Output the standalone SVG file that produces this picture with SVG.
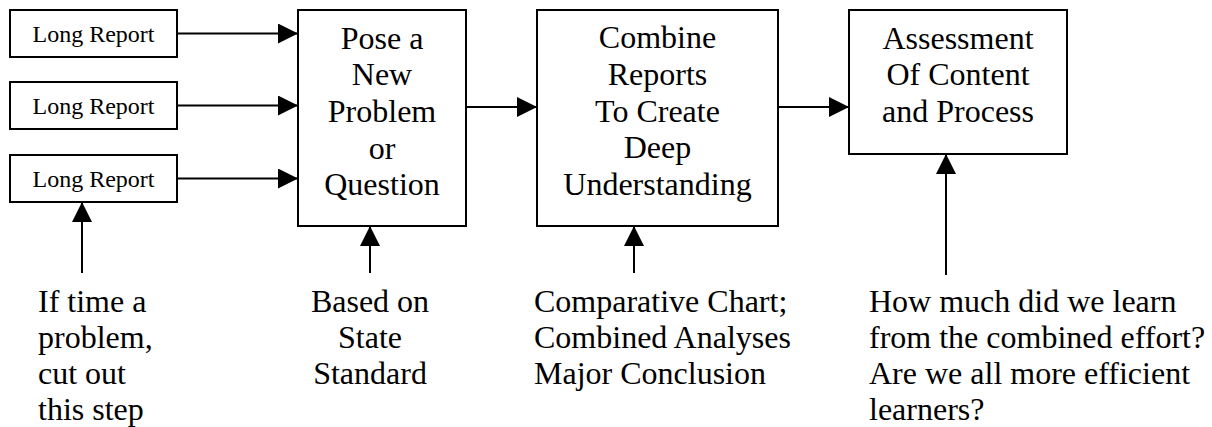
<svg xmlns="http://www.w3.org/2000/svg" width="1212" height="427" viewBox="0 0 1212 427">
  <style>
    .box { fill: #ffffff; stroke: #000000; stroke-width: 2; }
    text { font-family: 'Liberation Serif', 'Times New Roman', Times, 'DejaVu Serif', serif; fill: #000000; }
    .big { font-size: 32px; }
    .small { font-size: 24px; }
    .mid { text-anchor: middle; }
    .conn { stroke: #000000; stroke-width: 2; fill: none; marker-end: url(#arrow); }
  </style>
  <defs>
    <marker id="arrow" markerUnits="userSpaceOnUse" markerWidth="20" markerHeight="20" refX="20" refY="10" orient="auto">
      <path d="M0,0 L20,10 L0,20 Z" fill="#000000"/>
    </marker>
  </defs>
  <rect width="1212" height="427" fill="#ffffff"/>

  <g id="report1">
    <rect class="box" x="10" y="10" width="167" height="47"/>
    <text class="small mid" x="93.5" y="42">Long Report</text>
  </g>
  <g id="report2">
    <rect class="box" x="10" y="82" width="167" height="47"/>
    <text class="small mid" x="93.5" y="114">Long Report</text>
  </g>
  <g id="report3">
    <rect class="box" x="10" y="155" width="167" height="47"/>
    <text class="small mid" x="93.5" y="187">Long Report</text>
  </g>

  <g id="pose">
    <rect class="box" x="298" y="10" width="168" height="216"/>
    <text class="big mid" x="382" y="49">Pose a</text>
    <text class="big mid" x="382" y="85">New</text>
    <text class="big mid" x="382" y="122">Problem</text>
    <text class="big mid" x="382" y="159">or</text>
    <text class="big mid" x="382" y="195">Question</text>
  </g>

  <g id="combine">
    <rect class="box" x="537" y="10" width="241" height="216"/>
    <text class="big mid" x="657.5" y="48">Combine</text>
    <text class="big mid" x="657.5" y="85">Reports</text>
    <text class="big mid" x="657.5" y="122">To Create</text>
    <text class="big mid" x="657.5" y="158">Deep</text>
    <text class="big mid" x="657.5" y="195">Understanding</text>
  </g>

  <g id="assessment">
    <rect class="box" x="849" y="10" width="218" height="144"/>
    <text class="big mid" x="958" y="49">Assessment</text>
    <text class="big mid" x="958" y="85">Of Content</text>
    <text class="big mid" x="958" y="122">and Process</text>
  </g>

  <g id="note-time">
    <text class="big" x="38" y="312">If time a</text>
    <text class="big" x="38" y="348">problem,</text>
    <text class="big" x="38" y="384">cut out</text>
    <text class="big" x="38" y="420">this step</text>
  </g>
  <g id="note-standard">
    <text class="big mid" x="370" y="312">Based on</text>
    <text class="big mid" x="370" y="348">State</text>
    <text class="big mid" x="370" y="384">Standard</text>
  </g>
  <g id="note-chart">
    <text class="big" x="534" y="312">Comparative Chart;</text>
    <text class="big" x="534" y="348">Combined Analyses</text>
    <text class="big" x="534" y="384">Major Conclusion</text>
  </g>
  <g id="note-learn">
    <text class="big" x="869" y="312">How much did we learn</text>
    <text class="big" x="869" y="348">from the combined effort?</text>
    <text class="big" x="869" y="384">Are we all more efficient</text>
    <text class="big" x="869" y="420">learners?</text>
  </g>

  <g id="connectors">
    <line class="conn" x1="177" y1="33.5" x2="298" y2="33.5"/>
    <line class="conn" x1="177" y1="105.5" x2="298" y2="105.5"/>
    <line class="conn" x1="177" y1="178.5" x2="298" y2="178.5"/>
    <line class="conn" x1="466" y1="107" x2="537" y2="107"/>
    <line class="conn" x1="778" y1="107" x2="849" y2="107"/>
    <line class="conn" x1="82" y1="273" x2="82" y2="202"/>
    <line class="conn" x1="370" y1="273" x2="370" y2="226"/>
    <line class="conn" x1="634" y1="273" x2="634" y2="226"/>
    <line class="conn" x1="946" y1="275" x2="946" y2="154"/>
  </g>
</svg>
